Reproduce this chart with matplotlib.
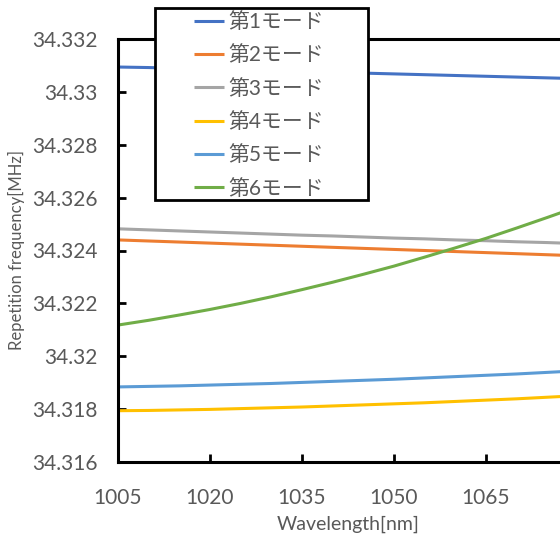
import matplotlib
matplotlib.use("Agg")
import matplotlib.pyplot as plt
from matplotlib.patches import Rectangle
from matplotlib.ticker import FixedLocator, FuncFormatter

plt.rcParams['font.family'] = ['Lato', 'Noto Sans CJK JP', 'DejaVu Sans']

# データ
wavelength = [1005, 1010, 1015, 1020, 1025, 1030, 1035, 1040,
              1045, 1050, 1055, 1060, 1065, 1070, 1075, 1080]
mode1 = [34.33094, 34.33092, 34.33089, 34.33086, 34.33083, 34.33080, 34.33077, 34.33074,
         34.33071, 34.33068, 34.33065, 34.33062, 34.33059, 34.33056, 34.33053, 34.33050]
mode2 = [34.32440, 34.32436, 34.32432, 34.32428, 34.32424, 34.32420, 34.32416, 34.32412,
         34.32408, 34.32404, 34.32400, 34.32396, 34.32392, 34.32388, 34.32384, 34.32380]
mode3 = [34.32482, 34.32478, 34.32474, 34.32470, 34.32466, 34.32462, 34.32458, 34.32455,
         34.32451, 34.32447, 34.32444, 34.32440, 34.32437, 34.32433, 34.32430, 34.32426]
mode4 = [34.31794, 34.31795, 34.31797, 34.31799, 34.31802, 34.31805, 34.31808, 34.31812,
         34.31816, 34.31820, 34.31824, 34.31829, 34.31834, 34.31839, 34.31845, 34.31851]
mode5 = [34.31884, 34.31886, 34.31888, 34.31891, 34.31894, 34.31897, 34.31901, 34.31905,
         34.31909, 34.31913, 34.31918, 34.31923, 34.31928, 34.31933, 34.31939, 34.31945]
mode6 = [34.32118, 34.32136, 34.32156, 34.32177, 34.32200, 34.32225, 34.32252, 34.32280,
         34.32310, 34.32341, 34.32375, 34.32410, 34.32446, 34.32485, 34.32525, 34.32566]

labels = ['第1モード', '第2モード', '第3モード', '第4モード', '第5モード', '第6モード']
colors = ['#4472C4', '#ED7D31', '#A5A5A5', '#FFC000', '#5B9BD5', '#70AD47']
yticks = [34.316, 34.318, 34.32, 34.322, 34.324, 34.326, 34.328, 34.33, 34.332]
xticks = [1005, 1020, 1035, 1050, 1065]

text_color = '#595959'

fig = plt.figure(figsize=(5.6, 5.38), dpi=100)
ax = fig.add_axes([118 / 560, 76 / 538, 460 / 560, 423 / 538])

for ys, lab, col in zip([mode1, mode2, mode3, mode4, mode5, mode6], labels, colors):
    ax.plot(wavelength, ys, color=col, linewidth=2.2, label=lab, solid_capstyle='butt')

ax.set_xlim(1005, 1080)
ax.set_ylim(34.316, 34.332)
ax.xaxis.set_major_locator(FixedLocator(xticks))
ax.yaxis.set_major_locator(FixedLocator(yticks))
ax.yaxis.set_major_formatter(FuncFormatter(lambda v, p: ('%.3f' % v).rstrip('0')))

for sp in ax.spines.values():
    sp.set_color('black')
    sp.set_linewidth(2.2)

ax.tick_params(direction='in', length=6, width=2, color='black',
               labelsize=15, labelcolor=text_color)
ax.tick_params(axis='y', pad=15)
ax.tick_params(axis='x', pad=19)

ax.set_xlabel('Wavelength[nm]', fontsize=14, color=text_color, labelpad=5)
ax.set_ylabel('Repetition frequency[MHz]', fontsize=12, color=text_color, labelpad=5)

# 凡例（枠は別に描く）
fig.add_artist(Rectangle((155 / 560, 1 - 200 / 538), 213 / 560, 192 / 538,
                         transform=fig.transFigure, facecolor='white',
                         edgecolor='black', linewidth=2, zorder=5))
handles, labs = ax.get_legend_handles_labels()
leg = fig.legend(handles, labs, loc='upper left', bbox_to_anchor=(192 / 560, 1 - 10 / 538),
                 bbox_transform=fig.transFigure, borderaxespad=0, frameon=False,
                 fontsize=15, handlelength=1.45, handletextpad=0.2,
                 labelspacing=0.64, borderpad=0.1)
leg.set_zorder(6)
for t in leg.get_texts():
    t.set_color(text_color)

fig.savefig('out.png', dpi=100)
